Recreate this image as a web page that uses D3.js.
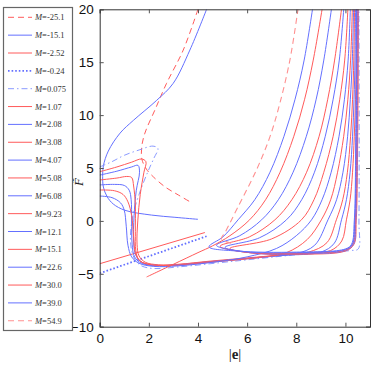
<!DOCTYPE html>
<html>
<head>
<meta charset="utf-8">
<script src="https://d3js.org/d3.v7.min.js"></script>
<style>
  body { margin: 0; background: #fff; }
  svg { display: block; }
</style>
</head>
<body>
<div id="chart"></div>
<script>
// legend labels, one per series
var mLabels = ["-25.1", "-15.1", "-2.52", "-0.24", "0.075", "1.07", "2.08", "3.08", "4.07",
               "5.08", "6.08", "9.23", "12.1", "15.1", "22.6", "30.0", "39.0", "54.9"];

var xTicks = [0, 2, 4, 6, 8, 10];
var yTicks = [-10, -5, 0, 5, 10, 15, 20];

// curves: [|e|, F] points, one or more pieces per series
var curves = [
  // -25.1
  [[[4.0,20],[3.4,16.15],[2.72,13.0],[2.25,10.5],[1.84,8.3],[1.71,7.0],[1.72,5.8],[1.9,4.9],[2.11,4.33],[2.65,3.23],[3.2,2.45],[3.74,1.72]]],
  // -15.1
  [[[4.35,20],[3.67,16.15],[2.99,13.0],[2.32,11.4],[1.37,9.5],[0.83,8.3],[0.35,6.6],[0.15,5.2],[0.12,4.2],[0.15,3.2],[0.3,2.3],[0.55,1.6],[1.03,1.0],[2.11,0.55],[3.06,0.34],[4.0,0.15]]],
  // -2.52
  [[[0,-4.05],[4.28,-1.1]]],
  // -0.24
  [[[0,-4.95],[4.35,-1.45]]],
  // 0.075
  [[[0,5.1],[0.5,5.6],[1.0,6.2],[1.6,6.7],[2.17,7.07],[2.37,6.85],[2.2,5.9],[1.96,4.65],[1.6,2.5],[1.35,0.5],[1.25,-1.5],[1.3,-2.8],[1.45,-3.7],[1.7,-4.25],[2.2,-4.5],[3.2,-4.35],[5.5,-3.8],[8,-3.2],[10.2,-2.8],[10.52,-2.65],[10.55,0],[10.55,20]]],
  // 1.07
  [[[0,4.65],[0.7,5.1],[1.3,5.55],[1.7,5.85],[1.88,5.6],[1.8,4.6],[1.65,2.5],[1.55,0],[1.52,-2.2],[1.6,-3.3],[1.85,-3.9],[2.4,-4.15],[3.2,-4.1],[4.5,-3.8],[6,-3.5],[7.5,-3.2],[8.6,-3.0],[9.4,-2.8],[9.85,-1.9],[10.04,0.1],[10.19,2],[10.29,4.6],[10.36,8],[10.41,11.5],[10.44,15.2],[10.45,20]]],
  // 2.08
  [[[0,4.33],[0.7,4.7],[1.3,5.1],[1.56,5.25],[1.62,4.6],[1.49,2.9],[1.4,0.5],[1.38,-2],[1.48,-3.3],[1.75,-3.95],[2.3,-4.2],[3.2,-4.15],[4.5,-3.85],[6,-3.55],[7.5,-3.25],[9,-2.95],[9.55,-2.1],[9.84,0.1],[10.04,2],[10.19,4.6],[10.29,8],[10.35,11.5],[10.39,15.2],[10.41,20]]],
  // 3.08
  [[[0,3.87],[0.7,4.05],[1.1,4.2],[1.3,4.1],[1.38,3.3],[1.45,1.5],[1.45,-1],[1.47,-2.8],[1.6,-3.7],[1.95,-4.1],[2.7,-4.2],[4,-3.95],[6,-3.55],[7.5,-3.2],[8.5,-2.95],[9.25,-2.05],[9.63,0.1],[9.89,2],[10.08,4.6],[10.21,8],[10.29,11.5],[10.34,15.2],[10.37,20]]],
  // 4.07
  [[[0,3.4],[0.6,3.45],[1.0,3.35],[1.2,2.9],[1.28,2],[1.3,0],[1.32,-2.2],[1.42,-3.4],[1.7,-4.0],[2.3,-4.25],[3.3,-4.15],[5,-3.8],[7,-3.35],[8,-3.1],[8.75,-2.3],[9.29,0.1],[9.64,2],[9.9,4.6],[10.09,8],[10.2,11.5],[10.28,15.2],[10.33,20]]],
  // 5.08
  [[[0,2.92],[0.6,2.85],[0.95,2.5],[1.15,1.8],[1.3,0.5],[1.38,-1.5],[1.45,-3.0],[1.65,-3.8],[2.1,-4.15],[3,-4.2],[4.5,-3.9],[6.5,-3.45],[7.6,-3.0],[8.45,-1.75],[9.02,0.1],[9.4,2],[9.68,4.6],[9.93,8],[10.1,11.5],[10.21,15.2],[10.28,20]]],
  // 6.08
  [[[0,2.35],[0.5,2.2],[0.85,1.7],[1.0,1.0],[1.08,-0.5],[1.15,-2.3],[1.3,-3.4],[1.6,-4.0],[2.2,-4.3],[3.2,-4.25],[4.8,-3.85],[6,-3.4],[7.2,-2.6],[8.0,-1.4],[8.62,0.1],[9.05,2],[9.42,4.6],[9.74,8],[9.96,11.5],[10.11,15.2],[10.2,20]]],
  // 9.23
  [[[10.53,20],[10.5,8],[10.44,0],[10.35,-2.2],[10,-2.85],[8,-3.15],[6.5,-3.1],[5.3,-2.6],[7.0,-1.7],[8.21,0.1],[8.72,2],[9.12,4.6],[9.5,8],[9.77,11.5],[9.97,15.2],[10.1,20]]],
  // 12.1
  [[[10.51,20],[10.48,8],[10.42,0],[10.33,-2.2],[10,-2.8],[8,-3.1],[6.3,-3.05],[5.1,-2.5],[6.5,-1.6],[7.6,0.1],[8.22,2],[8.74,4.6],[9.18,8],[9.5,11.5],[9.75,15.2],[9.93,20]]],
  // 15.1
  [[[10.49,20],[10.46,8],[10.4,0],[10.3,-2.2],[10,-2.75],[8,-3.05],[6.1,-3.0],[4.9,-2.4],[6.1,-1.5],[7.13,0.1],[7.82,2],[8.42,4.6],[8.93,8],[9.28,11.5],[9.56,15.2],[9.84,20]]],
  // 22.6
  [[[10.47,20],[10.44,8],[10.38,0],[10.28,-2.2],[10,-2.7],[8,-3.0],[5.9,-2.9],[4.75,-2.3],[5.7,-1.4],[6.59,0.1],[7.27,2],[7.87,4.6],[8.41,8],[8.81,11.5],[9.12,15.2],[9.43,20]]],
  // 30.0
  [[[1.91,-5.3],[3.0,-4.1],[4.0,-3.0],[4.6,-2.35],[5.3,-1.4],[6.1,0.1],[6.75,2],[7.34,4.6],[7.9,8],[8.34,11.5],[8.69,15.2],[9.05,20]]],
  // 39.0
  [[[10.45,20],[10.42,8],[10.36,0],[10.25,-2.2],[10,-2.65],[8,-2.95],[5.6,-2.85],[4.45,-2.45],[5.02,-1.5],[5.63,0.1],[6.31,2.0],[6.93,4.6],[7.5,8],[7.95,11.5],[8.32,15.2],[8.66,20]]],
  // 54.9
  [[[5.35,-2.1],[4.95,-1.7],[5.1,-1.1],[5.6,1.2],[6.38,4.82],[6.93,7.96],[7.33,11.1],[7.74,15.2],[8.07,20]]]
];

var w = 374, h = 372;
var svg = d3.select("#chart").append("svg").attr("width", w).attr("height", h);

var red = "#ff5a5a", blue = "#6470ff";
var lightRed = "#ff9090", lightBlue = "#8a9aff";
var styles = [
  [red, "6,4", 1], [blue, null, 1], [red, null, 1], [blue, "1.6,2", 1.8], [lightBlue, "6,3,1.5,3", 1],
  [red, null, 1], [blue, null, 1], [red, null, 1], [blue, null, 1], [red, null, 1], [blue, null, 1],
  [red, null, 1], [blue, null, 1], [red, null, 1], [blue, null, 1], [red, null, 1], [blue, null, 1],
  [lightRed, "6,4", 1.1]
];

var x = d3.scaleLinear().domain([0, 11]).range([99.7, 370]);
var y = d3.scaleLinear().domain([-10, 20]).range([326.7, 9.3]);

svg.append("clipPath").attr("id", "clip").append("rect")
  .attr("x", x(0)).attr("y", y(20)).attr("width", x(11) - x(0)).attr("height", y(-10) - y(20));

var line = d3.line().x(function(d) { return x(d[0]); }).y(function(d) { return y(d[1]); })
  .curve(d3.curveCatmullRom.alpha(0.5));

var plot = svg.append("g").attr("clip-path", "url(#clip)");
for (var i = 0; i < curves.length; i++) {
  for (var j = 0; j < curves[i].length; j++) {
    plot.append("path").attr("d", line(curves[i][j]))
      .attr("fill", "none")
      .attr("stroke", styles[i][0])
      .attr("stroke-width", styles[i][2])
      .attr("stroke-dasharray", styles[i][1]);
  }
}

// axes, MATLAB style box with inward ticks
var fmt = function(d) { return d < 0 ? "\u2212" + Math.abs(d) : d; };
var ax = svg.append("g").attr("font-family", "Liberation Sans, Arial, sans-serif");
ax.append("g").attr("transform", "translate(0," + y(-10) + ")")
  .call(d3.axisBottom(x).tickValues(xTicks).tickSize(-4).tickPadding(7).tickFormat(fmt));
ax.append("g").attr("transform", "translate(0," + y(20) + ")")
  .call(d3.axisTop(x).tickValues(xTicks).tickSize(-4).tickFormat(""));
ax.append("g").attr("transform", "translate(" + x(0) + ",0)")
  .call(d3.axisLeft(y).tickValues(yTicks).tickSize(-4).tickPadding(6).tickFormat(fmt));
ax.append("g").attr("transform", "translate(" + x(11) + ",0)")
  .call(d3.axisRight(y).tickValues(yTicks).tickSize(-4).tickFormat(""));
ax.selectAll(".domain").attr("stroke", "#333");
ax.selectAll(".tick line").attr("stroke", "#555");
ax.selectAll(".tick text").attr("font-size", 13.5).attr("fill", "#111");

svg.append("text").attr("x", 235).attr("y", 359).attr("text-anchor", "middle")
  .attr("font-family", "Liberation Serif, Times New Roman, serif").attr("font-size", 15).attr("fill", "#222")
  .html("|<tspan font-weight='bold'>e</tspan>|");

svg.append("text").attr("transform", "translate(83,182) rotate(-90)").attr("text-anchor", "middle")
  .attr("font-family", "Liberation Serif, Times New Roman, serif").attr("font-style", "italic")
  .attr("font-size", 13).attr("fill", "#222").text("F\u0303");

// legend
var lg = svg.append("g");
lg.append("rect").attr("x", 3.5).attr("y", 7.5).attr("width", 69).attr("height", 323)
  .attr("fill", "#fff").attr("stroke", "#666").attr("stroke-width", 1.2);
for (var k = 0; k < mLabels.length; k++) {
  var ly = 17.3 + k * 17.85;
  lg.append("line").attr("x1", 8).attr("x2", 32).attr("y1", ly).attr("y2", ly)
    .attr("stroke", styles[k][0]).attr("stroke-width", styles[k][2]).attr("stroke-dasharray", styles[k][1]);
  var t = lg.append("text").attr("x", 35).attr("y", ly + 3)
    .attr("font-family", "Liberation Serif, Times New Roman, serif").attr("font-size", 8.5).attr("fill", "#333");
  t.append("tspan").attr("font-style", "italic").text("M");
  t.append("tspan").text("=" + mLabels[k]);
}
</script>
</body>
</html>
